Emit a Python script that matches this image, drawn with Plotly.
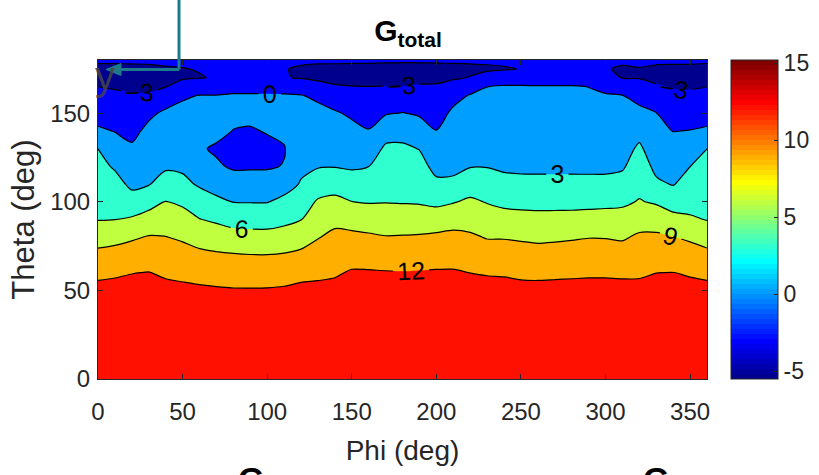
import numpy as np
import plotly.graph_objects as go

# ---------------- data ----------------
phi_deg = [0, 10, 20, 30, 40, 50, 60, 70, 80, 90, 100, 110, 120, 130, 140, 150, 160, 170, 180,
           190, 200, 210, 220, 230, 240, 250, 260, 270, 280, 290, 300, 310, 320, 330, 340, 350, 360]
theta_deg = [0, 20, 40, 50, 60, 70, 80, 90, 100, 110, 120, 130, 140, 150, 160, 165, 170, 175, 180]

# G_total (dB), one row per theta value, one column per phi value
g_total = [
    [15.2, 15.2, 15.2, 15.2, 15.2, 15.2, 15.2, 15.2, 15.2, 15.2, 15.2, 15.2, 15.2, 15.2, 15.2, 15.2, 15.2, 15.2, 15.2,
     15.2, 15.2, 15.2, 15.2, 15.2, 15.2, 15.2, 15.2, 15.2, 15.2, 15.2, 15.2, 15.2, 15.2, 15.2, 15.2, 15.2, 15.2],
    [14.7, 14.7, 14.7, 14.7, 14.7, 14.7, 14.7, 14.7, 14.7, 14.7, 14.7, 14.7, 14.7, 14.7, 14.7, 14.7, 14.7, 14.7, 14.7,
     14.7, 14.7, 14.7, 14.7, 14.7, 14.7, 14.7, 14.7, 14.7, 14.7, 14.7, 14.7, 14.7, 14.7, 14.7, 14.7, 14.7, 14.7],
    [13.5, 13.5, 13.5, 13.5, 13.5, 13.5, 13.5, 13.5, 13.5, 13.5, 13.5, 13.5, 13.5, 13.5, 13.5, 13.5, 13.5, 13.5, 13.5,
     13.5, 13.5, 13.5, 13.5, 13.5, 13.5, 13.5, 13.5, 13.5, 13.5, 13.5, 13.5, 13.5, 13.5, 13.5, 13.5, 13.5, 13.5],
    [12.63, 12.68, 12.73, 12.78, 12.64, 12.54, 12.43, 12.30, 12.20, 12.20, 12.23, 12.35, 12.56, 12.59, 12.64, 12.86,
     12.86, 12.82, 12.81, 12.83, 12.86, 12.86, 12.75, 12.71, 12.69, 12.62, 12.61, 12.63, 12.65, 12.67, 12.67, 12.65,
     12.63, 12.75, 12.76, 12.69, 12.63],
    [11.51, 11.71, 11.94, 12.06, 11.67, 11.41, 11.10, 10.86, 10.71, 10.64, 10.66, 10.85, 11.31, 11.52, 11.74, 12.22,
     12.21, 12.15, 12.11, 12.17, 12.22, 12.22, 11.98, 11.85, 11.78, 11.57, 11.52, 11.59, 11.66, 11.72, 11.72, 11.65,
     11.69, 11.98, 12.03, 11.77, 11.51],
    [9.75, 10.02, 10.35, 10.65, 10.37, 10.03, 9.60, 9.35, 9.18, 9.05, 9.03, 9.21, 9.60, 10.19, 10.68, 11.07, 10.96,
     10.75, 10.72, 10.85, 11.01, 11.09, 10.70, 10.35, 10.32, 10.14, 10.02, 10.11, 10.22, 10.33, 10.32, 10.19, 10.55,
     10.73, 10.57, 10.23, 9.75],
    [7.82, 8.14, 8.65, 9.19, 9.07, 8.63, 7.91, 7.51, 7.09, 6.95, 6.93, 7.20, 7.78, 8.87, 9.63, 9.64, 9.42, 9.14, 9.20,
     9.31, 9.52, 9.70, 9.39, 8.85, 8.83, 8.66, 8.47, 8.57, 8.73, 8.92, 8.89, 8.70, 9.40, 9.47, 9.07, 8.56, 7.82],
    [5.91, 5.99, 6.35, 7.16, 7.58, 7.13, 6.09, 5.57, 4.98, 4.89, 4.88, 5.31, 5.93, 7.60, 8.34, 7.94, 7.65, 7.48, 7.44,
     7.44, 7.51, 7.95, 7.95, 7.35, 7.08, 6.93, 6.82, 6.86, 6.91, 7.04, 7.11, 7.11, 7.89, 7.72, 6.89, 6.33, 5.91],
    [5.18, 4.93, 4.08, 4.92, 6.08, 5.53, 4.32, 3.59, 2.94, 2.89, 2.89, 3.66, 4.57, 6.32, 6.70, 6.02, 5.84, 5.91, 5.84,
     5.76, 5.38, 5.83, 6.45, 5.85, 5.36, 5.22, 5.17, 5.17, 5.17, 5.23, 5.32, 5.51, 6.17, 5.67, 4.76, 5.11, 5.18],
    [4.46, 3.86, 2.46, 2.85, 4.07, 3.63, 2.68, 1.89, 1.10, 1.12, 1.15, 1.91, 3.20, 4.50, 4.81, 4.24, 4.42, 5.08, 5.04,
     4.82, 3.55, 3.47, 4.62, 4.31, 3.67, 3.51, 3.50, 3.50, 3.50, 3.51, 3.54, 3.89, 5.19, 3.44, 2.85, 4.05, 4.46],
    [3.73, 2.72, 1.41, 2.10, 2.65, 2.56, 1.41, 0.30, -0.30, -0.28, -0.26, 0.10, 2.49, 2.82, 2.89, 2.70, 2.98, 4.25,
     4.24, 3.89, 2.24, 2.47, 2.88, 2.90, 2.66, 2.61, 2.60, 2.60, 2.60, 2.59, 2.58, 2.70, 4.30, 2.38, 1.89, 2.98, 3.73],
    [2.99, 1.30, 0.37, 1.34, 1.92, 1.91, 0.25, -0.30, -0.76, -0.96, -0.58, -0.15, 1.89, 2.09, 2.03, 1.72, 1.57, 3.42,
     3.44, 2.92, 1.15, 1.80, 2.19, 2.26, 2.09, 2.04, 2.03, 2.03, 2.03, 2.01, 1.98, 2.04, 3.40, 1.60, 0.92, 1.54, 2.99],
    [0.39, -0.10, -0.67, 0.59, 1.18, 1.25, 0.70, 0.60, -0.06, -0.21, 0.15, 0.50, 1.29, 1.37, 1.16, 0.74, 0.14, 1.91,
     2.09, 1.30, 0.05, 1.13, 1.51, 1.61, 1.51, 1.48, 1.46, 1.46, 1.46, 1.43, 1.38, 1.37, 2.21, 0.82, -0.06, 0.07, 0.39],
    [-1.09, -1.32, -1.71, -0.48, 0.44, 0.60, 0.55, 0.45, 0.60, 0.60, 0.60, 0.60, 0.69, 0.64, 0.30, -0.42, -1.12, -0.23,
     0.08, -0.32, -1.05, 0.47, 0.82, 0.97, 0.94, 0.92, 0.89, 0.89, 0.89, 0.84, 0.78, 0.71, 0.79, 0.04, -1.29, -1.23,
     -1.09],
    [-2.36, -2.54, -2.74, -2.65, -1.41, -0.27, 0.05, 0.05, 0.25, 0.25, 0.25, 0.25, 0.08, -0.42, -1.56, -2.08, -2.36,
     -2.02, -1.81, -1.89, -2.16, -0.77, 0.14, 0.32, 0.37, 0.35, 0.31, 0.31, 0.31, 0.26, 0.18, 0.05, -0.98, -1.78, -2.51,
     -2.53, -2.36],
    [-3.01, -3.24, -3.50, -3.71, -3.09, -1.98, -1.47, -1.20, -1.00, -1.00, -1.00, -1.20, -1.42, -2.19, -2.76, -2.92,
     -2.98, -2.91, -2.75, -2.68, -2.71, -2.05, -1.08, -0.02, 0.30, 0.30, 0.22, 0.22, 0.22, -0.03, -0.60, -1.60, -2.07,
     -2.72, -3.16, -3.24, -3.01],
    [-3.90, -4.22, -4.50, -4.45, -3.96, -3.27, -3.10, -2.85, -2.50, -2.40, -2.50, -2.90, -3.12, -3.46, -3.73, -3.94,
     -4.05, -4.31, -5.50, -3.87, -3.60, -3.28, -2.89, -2.14, -2.00, -2.00, -1.90, -1.90, -1.90, -2.00, -2.50, -3.05,
     -3.11, -3.61, -3.99, -4.11, -3.90],
    [-3.61, -3.59, -3.50, -3.42, -3.17, -3.07, -2.90, -2.90, -2.80, -2.75, -2.80, -2.90, -3.25, -3.50, -3.55, -3.62,
     -3.66, -3.86, -4.00, -3.87, -3.75, -3.64, -3.50, -3.35, -3.15, -2.95, -2.75, -2.70, -2.75, -2.85, -2.85, -3.25,
     -3.08, -3.34, -3.40, -3.43, -3.61],
    [-2.6, -2.6, -2.6, -2.6, -2.6, -2.6, -2.6, -2.6, -2.6, -2.6, -2.6, -2.6, -2.6, -2.6, -2.6, -2.6, -2.6, -2.6, -2.6,
     -2.6, -2.6, -2.6, -2.6, -2.6, -2.6, -2.6, -2.6, -2.6, -2.6, -2.6, -2.6, -2.6, -2.6, -2.6, -2.6, -2.6, -2.6],
]

contour_levels = [-3, 0, 3, 6, 9, 12]
x_tick_vals = [0, 50, 100, 150, 200, 250, 300, 350]
y_tick_vals = [0, 50, 100, 150]
cbar_tick_vals = [-5, 0, 5, 10, 15]
cbar_tick_text = ["-5", "0", "5", "10", "15"]

# ---------------- styling ----------------
FONT = "Liberation Sans, Arial, sans-serif"
AX = "#262626"

W, H = 819, 475
L, R, T, B = 98, 707, 60, 379
M = 64  # MATLAB jet(64)


def jet64(i):
    """MATLAB jet(64) entry, i = 1..64 -> (r, g, b) in 0..1"""
    n = 16
    u = [k / n for k in range(1, n + 1)] + [1.0] * (n - 1) + [k / n for k in range(n, 0, -1)]

    def pick(k):
        return u[k - 1] if 1 <= k <= len(u) else 0.0
    return (pick(i - 24), pick(i - 8), pick(i + 8))


def rgb(c):
    return "rgb(%d,%d,%d)" % tuple(round(255 * v) for v in c)


z = np.array(g_total)
zmin, zmax = float(z.min()), float(z.max())


def matlab_color(v):
    idx = int(np.floor((v - zmin) / (zmax - zmin) * M)) + 1
    return rgb(jet64(min(max(idx, 1), M)))


# MATLAB-style contourf: each band takes the colormap colour of its lower level
band_lo = [zmin] + contour_levels
band_colors = [matlab_color(v) for v in band_lo]
nb = len(band_colors)
fill_scale = []
for i, c in enumerate(band_colors):
    lo = max(0.0, (2 * i - 1) / (2 * (nb - 1)))
    hi = min(1.0, (2 * i + 1) / (2 * (nb - 1)))
    fill_scale += [[lo, c], [hi, c]]

# 64-step jet colour bar
jet_scale = []
for i in range(1, M + 1):
    c = rgb(jet64(i))
    jet_scale += [[(i - 1) / M, c], [i / M, c]]

step = contour_levels[1] - contour_levels[0]

fig = go.Figure()
fig.add_trace(go.Contour(
    x=phi_deg, y=theta_deg, z=g_total,
    autocontour=False,
    contours=dict(start=contour_levels[0], end=contour_levels[-1], size=step,
                  coloring="fill", showlabels=True,
                  labelfont=dict(size=25, color="black", family=FONT)),
    colorscale=fill_scale, showscale=False,
    line=dict(color="black", width=1.2, smoothing=0.8),
    hoverinfo="skip",
))

# jet colour bar (MATLAB colorbar)
fig.add_trace(go.Scatter(
    x=[None], y=[None], mode="markers", showlegend=False, hoverinfo="skip",
    marker=dict(color=[zmin, zmax], cmin=zmin, cmax=zmax, colorscale=jet_scale, showscale=True,
                colorbar=dict(x=(731 - L) / (R - L), xanchor="left", xref="paper",
                              y=0.5, yanchor="middle", len=1.0, lenmode="fraction",
                              thickness=47, thicknessmode="pixels", xpad=0, ypad=0,
                              outlinewidth=1, outlinecolor=AX,
                              tickvals=cbar_tick_vals, ticktext=cbar_tick_text,
                              ticks="inside", ticklen=4, tickcolor=AX,
                              tickfont=dict(family=FONT, size=23, color=AX))),
))

px = lambda v: (v - L) / (R - L)
py = lambda v: (B - v) / (B - T)

fig.update_layout(
    width=W, height=H,
    margin=dict(l=L, r=W - R, t=T, b=H - B, pad=0, autoexpand=False),
    paper_bgcolor="white", plot_bgcolor="white",
    title=dict(text="<b>G<sub>total</sub></b>", x=px(408), xref="paper", xanchor="center",
               y=1 - 30 / H, yref="container", yanchor="middle",
               font=dict(family=FONT, size=30, color="black")),
    xaxis=dict(range=[0, 360], tickvals=x_tick_vals, ticks="inside", ticklen=5, tickcolor=AX,
               showline=True, linecolor=AX, linewidth=1, mirror="ticks", showgrid=False, zeroline=False,
               tickfont=dict(family=FONT, size=24, color=AX), ticklabelstandoff=11,
               title=dict(text="Phi (deg)", font=dict(family=FONT, size=28, color=AX), standoff=16)),
    yaxis=dict(range=[0, 180], tickvals=y_tick_vals, ticks="inside", ticklen=5, tickcolor=AX,
               showline=True, linecolor=AX, linewidth=1, mirror="ticks", showgrid=False, zeroline=False,
               tickfont=dict(family=FONT, size=24, color=AX), ticklabelstandoff=2,
               title=dict(text="Theta (deg)", font=dict(family=FONT, size=31, color=AX), standoff=6)),
)

# screenshot artefact: teal orientation arrow and grey "y" in the top-left corner
TEAL = "#1d7a8a"
fig.add_shape(type="line", xref="paper", yref="paper", x0=px(179), x1=px(179), y0=py(0), y1=py(69.5),
              line=dict(color=TEAL, width=3))
fig.add_shape(type="line", xref="paper", yref="paper", x0=px(179), x1=px(116), y0=py(69.5), y1=py(69.5),
              line=dict(color=TEAL, width=3))
fig.add_shape(type="path", xref="paper", yref="paper",
              path="M %f %f L %f %f L %f %f Z" % (px(106), py(69.5), px(121), py(63.5), px(121), py(75.5)),
              fillcolor=TEAL, line=dict(color=TEAL, width=1))
fig.add_annotation(text="y", xref="paper", yref="paper", x=px(105), y=py(76), showarrow=False,
                   xanchor="center", yanchor="middle", font=dict(family=FONT, size=40, color="rgba(70,70,70,0.85)"))

# tops of the titles of the sub-plots below (cut off by the page edge, as in the reference)
for gx in (251, 656):
    fig.add_annotation(text="<b>G</b>", xref="paper", yref="paper", x=px(gx), y=py(458), showarrow=False,
                       xanchor="center", yanchor="top", font=dict(family=FONT, size=34, color="black"))

fig.write_html("out.html")
